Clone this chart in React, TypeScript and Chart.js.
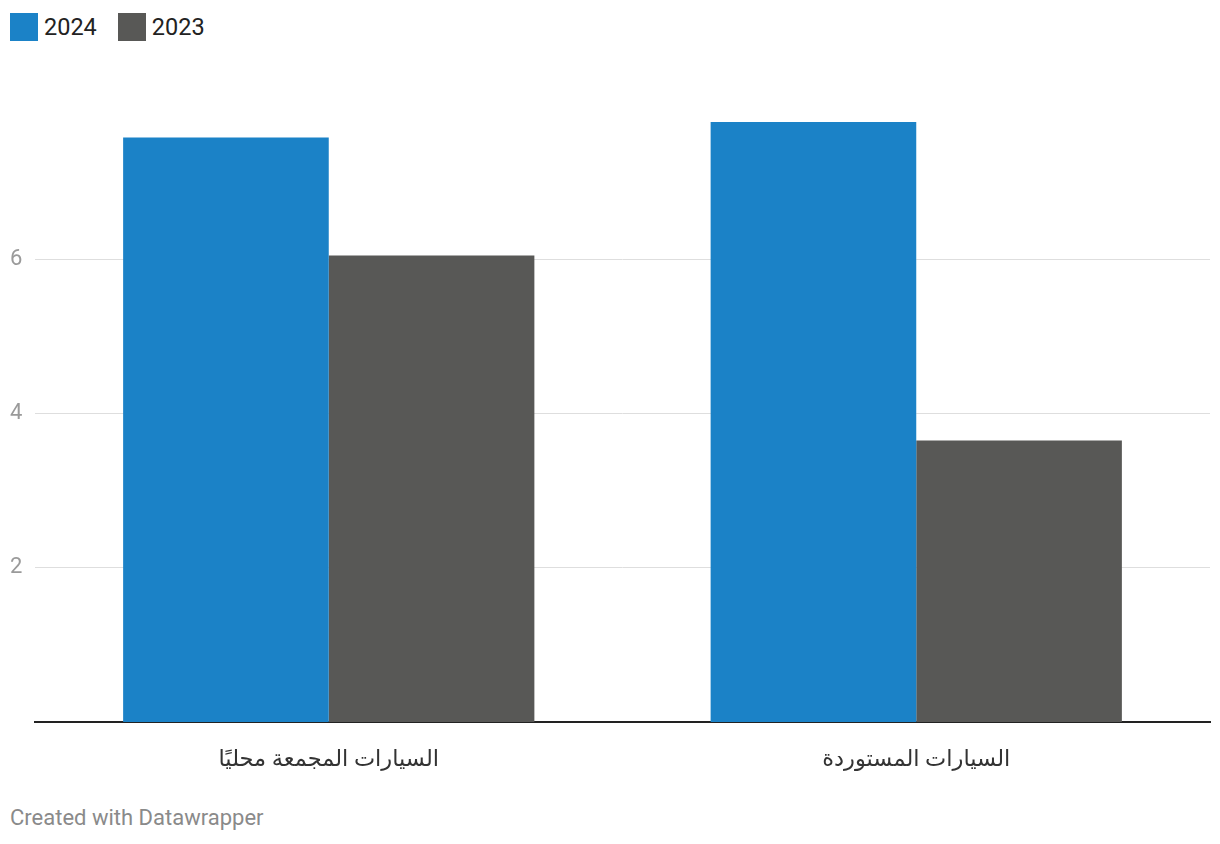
import React, { useEffect, useRef } from "react";
import { Chart, registerables } from "chart.js";

Chart.register(...registerables);

const categories = ["السيارات المجمعة محليًا", "السيارات المستوردة"];
const values2024 = [7.58, 7.78];
const values2023 = [6.05, 3.65];
const seriesNames = ["2024", "2023"];
const seriesColors = ["#1b82c7", "#585856"];
const yTicks = [2, 4, 6];
const footerText = "Created with Datawrapper";

const FONT = "Roboto, 'DejaVu Sans', sans-serif";

export default function App() {
  const ref = useRef<HTMLCanvasElement | null>(null);

  useEffect(() => {
    if (!ref.current) return;
    const chart = new Chart(ref.current, {
      type: "bar",
      data: {
        labels: categories,
        datasets: [
          { label: seriesNames[0], data: values2024, backgroundColor: seriesColors[0], borderWidth: 0 },
          { label: seriesNames[1], data: values2023, backgroundColor: seriesColors[1], borderWidth: 0 },
        ],
      },
      options: {
        animation: false,
        responsive: false,
        maintainAspectRatio: false,
        layout: { padding: { top: 105, left: 10, right: 10, bottom: 0 } },
        plugins: { legend: { display: false }, tooltip: { enabled: false } },
        datasets: { bar: { categoryPercentage: 0.7, barPercentage: 1 } },
        scales: {
          x: {
            z: 1,
            grid: { display: false, drawTicks: false },
            border: { display: true, color: "#222222", width: 2 },
            ticks: { color: "#333333", font: { family: FONT, size: 22.5 }, padding: 25 },
            afterFit: (s: any) => {
              s.height = 78;
            },
          },
          y: {
            min: 0,
            max: 8,
            border: { display: false },
            grid: { color: "#dedede", lineWidth: 1, drawTicks: false },
            ticks: {
              color: "#9a9a9a",
              font: { family: FONT, size: 22 },
              crossAlign: "far",
              padding: 0,
              stepSize: 2,
            },
            afterBuildTicks: (s: any) => {
              s.ticks = yTicks.map((v) => ({ value: v }));
            },
            afterFit: (s: any) => {
              s.width = 25;
            },
          },
        },
      },
    });
    return () => chart.destroy();
  }, []);

  return (
    <div style={{ position: "fixed", left: 0, top: 0, width: 1220, height: 844, background: "#fff", fontFamily: FONT }}>
      <div style={{ position: "absolute", left: 10, top: 13, display: "flex", alignItems: "center", fontSize: 23.5, color: "#222" }}>
        {seriesNames.map((n, i) => (
          <div key={n} style={{ display: "flex", alignItems: "center", marginRight: 21 }}>
            <span style={{ display: "inline-block", width: 28, height: 28, background: seriesColors[i], marginRight: 6 }} />
            <span style={{ lineHeight: "28px" }}>{n}</span>
          </div>
        ))}
      </div>
      <canvas ref={ref} width={1220} height={800} style={{ position: "absolute", left: 0, top: 0, width: 1220, height: 800 }} />
      <div style={{ position: "absolute", left: 10, top: 804, fontSize: 22, color: "#8a8a8a", lineHeight: "28px" }}>
        {footerText}
      </div>
    </div>
  );
}
